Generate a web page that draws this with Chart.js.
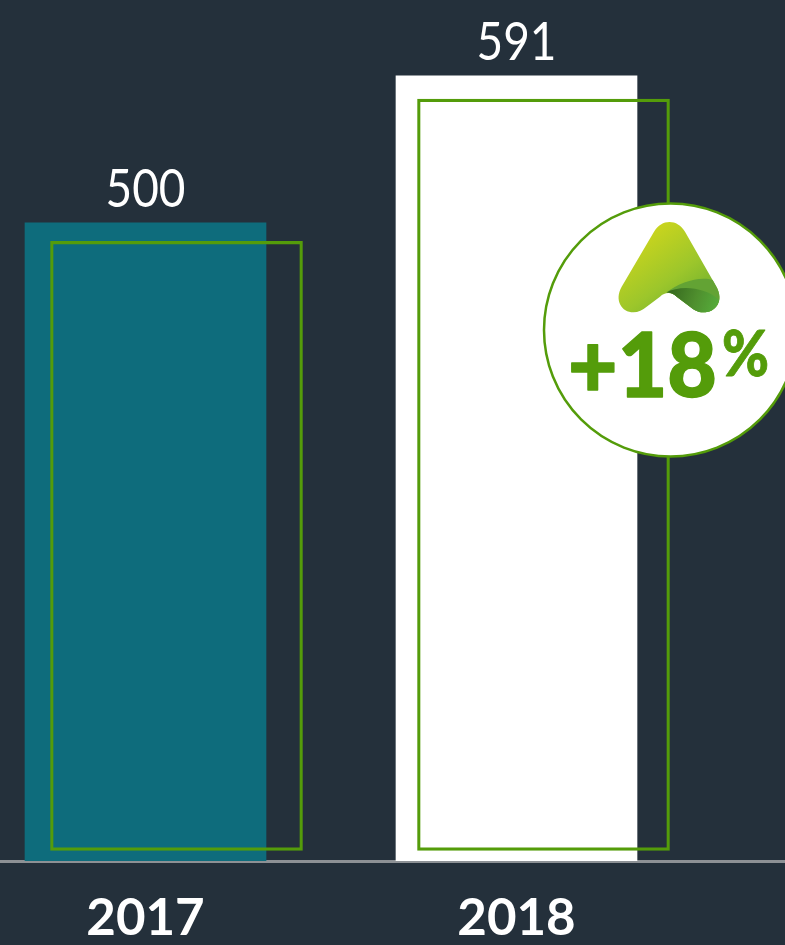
<!DOCTYPE html>
<html>
<head>
<meta charset="utf-8">
<style>
html,body{margin:0;padding:0;background:#24303b;width:785px;height:945px;overflow:hidden}
canvas{display:block}
</style>
<script src="https://cdn.jsdelivr.net/npm/chart.js@4"></script>
</head>
<body>
<canvas id="c" width="785" height="945"></canvas>
<script>
const categories = ['2017', '2018'];
const values = [500, 591];
const outlineLow = [111.6, 111.6];
const outlineHigh = [488.6, 576.6];
const badgeText = '+18';
const badgeUnit = '%';

const green = '#549c0a';

const valueLabels = {
  id: 'valueLabels',
  afterDatasetsDraw(chart) {
    const ctx = chart.ctx;
    const meta = chart.getDatasetMeta(0);
    ctx.save();
    ctx.fillStyle = '#ffffff';
    ctx.font = '53px Lato';
    ctx.textAlign = 'center';
    ctx.textBaseline = 'alphabetic';
    meta.data.forEach((el, i) => {
      ctx.fillText(String(values[i]), el.x, el.y - 16, 80);
    });
    ctx.restore();
  }
};

const badge = {
  id: 'badge',
  afterDraw(chart) {
    const ctx = chart.ctx;
    ctx.save();
    ctx.beginPath();
    ctx.arc(670.5, 330, 126.5, 0, Math.PI * 2);
    ctx.fillStyle = '#ffffff';
    ctx.fill();
    ctx.lineWidth = 2.5;
    ctx.strokeStyle = green;
    ctx.stroke();

    // logo, drawn in a 3x crop coordinate frame
    ctx.save();
    ctx.translate(530, 190);
    ctx.scale(1 / 3, 1 / 3);
    const g = ctx.createLinearGradient(370, 120, 530, 340);
    g.addColorStop(0, '#c8d41e');
    g.addColorStop(0.55, '#9cc62b');
    g.addColorStop(1, '#6cae2f');
    ctx.beginPath();
    ctx.moveTo(372, 125);
    ctx.bezierCurveTo(395, 86, 442, 86, 465, 125);
    ctx.lineTo(558, 288);
    ctx.bezierCurveTo(585, 335, 555, 368, 520, 367);
    ctx.bezierCurveTo(502, 367, 490, 358, 480, 350);
    ctx.lineTo(440, 320);
    ctx.bezierCurveTo(425, 305, 405, 305, 390, 320);
    ctx.lineTo(350, 350);
    ctx.bezierCurveTo(338, 360, 325, 367, 310, 367);
    ctx.bezierCurveTo(275, 367, 252, 330, 275, 290);
    ctx.closePath();
    ctx.fillStyle = g;
    ctx.fill();

    // upper fold
    ctx.beginPath();
    ctx.moveTo(408, 308);
    ctx.bezierCurveTo(450, 275, 510, 258, 548, 270);
    ctx.lineTo(558, 288);
    ctx.bezierCurveTo(585, 335, 555, 368, 520, 367);
    ctx.bezierCurveTo(502, 367, 490, 358, 480, 350);
    ctx.lineTo(440, 320);
    ctx.bezierCurveTo(430, 311, 418, 307, 408, 308);
    ctx.closePath();
    ctx.fillStyle = '#63a334';
    ctx.fill();

    // lower fold
    const d = ctx.createLinearGradient(420, 300, 560, 350);
    d.addColorStop(0, '#36691f');
    d.addColorStop(0.55, '#4f8f2e');
    d.addColorStop(1, '#55ab3a');
    ctx.beginPath();
    ctx.moveTo(408, 308);
    ctx.bezierCurveTo(450, 285, 525, 290, 567, 330);
    ctx.bezierCurveTo(562, 352, 545, 368, 520, 367);
    ctx.bezierCurveTo(502, 367, 490, 358, 480, 350);
    ctx.lineTo(440, 320);
    ctx.bezierCurveTo(430, 311, 418, 307, 408, 308);
    ctx.closePath();
    ctx.fillStyle = d;
    ctx.fill();
    ctx.restore();

    // badge text
    ctx.fillStyle = green;
    ctx.strokeStyle = green;
    ctx.lineJoin = 'round';
    ctx.textAlign = 'left';
    ctx.textBaseline = 'alphabetic';
    ctx.font = '900 90px Lato';
    ctx.lineWidth = 1.5;
    ctx.fillText(badgeText, 568, 397, 149);
    ctx.strokeText(badgeText, 568, 397, 149);
    ctx.font = '900 62px Lato';
    ctx.lineWidth = 0.8;
    ctx.fillText(badgeUnit, 722, 376, 47);
    ctx.strokeText(badgeUnit, 722, 376, 47);
    ctx.restore();
  }
};

new Chart(document.getElementById('c'), {
  type: 'bar',
  data: {
    datasets: [
      {
        xAxisID: 'x',
        yAxisID: 'y',
        order: 2,
        grouped: false,
        barThickness: 241,
        data: categories.map((_, i) => ({ x: i, y: values[i] })),
        backgroundColor: ['#0e6c7c', '#ffffff'],
        borderWidth: 0
      },
      {
        xAxisID: 'x2',
        yAxisID: 'y',
        order: 1,
        grouped: false,
        barThickness: 252,
        data: categories.map((_, i) => ({ x: i, y: [outlineLow[i], outlineHigh[i]] })),
        backgroundColor: 'rgba(0,0,0,0)',
        borderColor: green,
        borderWidth: 2.5,
        borderSkipped: false
      }
    ]
  },
  options: {
    responsive: false,
    devicePixelRatio: 1,
    animation: false,
    layout: { padding: 0 },
    plugins: { legend: { display: false }, tooltip: { enabled: false }, title: { display: false } },
    scales: {
      x: {
        type: 'linear',
        offset: false,
        min: -145.5 / 371,
        max: (785 - 145.5) / 371,
        afterBuildTicks(scale) { scale.ticks = categories.map((_, i) => ({ value: i })); },
        afterFit(scale) { scale.height = 84; },
        grid: { display: false, drawTicks: false },
        border: { display: true, color: '#8d9195', width: 3 },
        ticks: {
          autoSkip: false,
          maxRotation: 0,
          padding: 27,
          color: '#ffffff',
          font: { family: 'Lato', size: 51, weight: 'bold' },
          callback: (v) => categories[v]
        }
      },
      x2: {
        type: 'linear',
        display: false,
        offset: false,
        min: -176.5 / 367,
        max: (785 - 176.5) / 367
      },
      y: {
        display: false,
        min: 105,
        max: 638,
        grid: { display: false }
      }
    }
  },
  plugins: [valueLabels, badge]
});
</script>
</body>
</html>
